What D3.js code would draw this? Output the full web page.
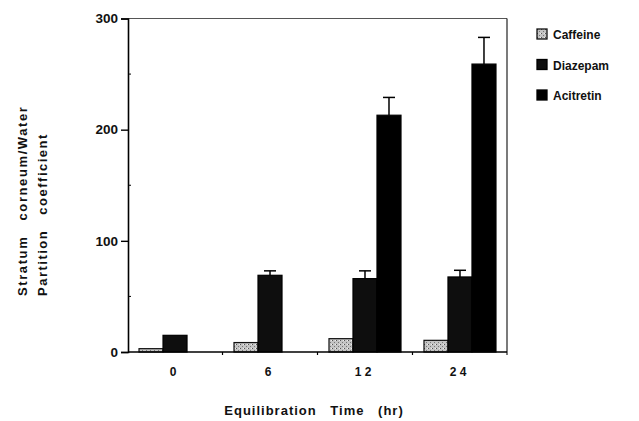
<!DOCTYPE html>
<html>
<head>
<meta charset="utf-8">
<script src="https://cdn.jsdelivr.net/npm/d3@7"></script>
<style>
  body { margin: 0; background: #fff; }
  text { font-family: "Liberation Sans", Arial, sans-serif; font-weight: bold; fill: #111; }
</style>
</head>
<body>
<div id="chart"></div>
<script>
'use strict'

// equilibration times (hr) and how the old plot prints them
var categories = ["0", "6", "12", "24"];
var tickLabels = ["0", "6", "1 2", "2 4"];
var seriesNames = ["Caffeine", "Diazepam", "Acitretin"];

// partition coefficients
var caffeine = [3, 8.5, 12, 10.5];
var diazepam = [15, 69, 66, 67.5];
var acitretin = [0, 0, 213, 259];

// upper error bars (SD)
var caffeineErr = [0, 0, 0, 0];
var diazepamErr = [0, 4, 7, 6];
var acitretinErr = [0, 0, 16, 24];

var yTicks = [0, 100, 200, 300];
var yMinorTicks = [50, 150, 250];

var width = 639, height = 421;
var plotLeft = 128, plotRight = 507, plotTop = 18.5, plotBottom = 352;

var fills = ["url(#stipple)", "#0e0e0e", "#000"];
var strokes = ["#111", "#000", "#000"];

var svg = d3.select("#chart").append("svg")
    .attr("width", width).attr("height", height);

// grey stipple for caffeine, like the photocopied original
var pat = svg.append("defs").append("pattern").attr("id", "stipple")
    .attr("patternUnits", "userSpaceOnUse").attr("width", 4).attr("height", 4);
pat.append("rect").attr("width", 4).attr("height", 4).style("fill", "#c4c4c4");
pat.append("rect").attr("x", 0).attr("y", 0).attr("width", 1).attr("height", 1).style("fill", "#555");
pat.append("rect").attr("x", 2).attr("y", 2).attr("width", 1).attr("height", 1).style("fill", "#777");
pat.append("rect").attr("x", 3).attr("y", 0).attr("width", 1).attr("height", 1).style("fill", "#eee");

var x = d3.scaleBand().domain(categories).range([plotLeft, plotRight])
    .paddingInner(0.242).paddingOuter(0.116);
var xs = d3.scaleBand().domain(seriesNames).range([0, x.bandwidth()]);
var y = d3.scaleLinear().domain([0, 300]).range([plotBottom, plotTop]);

var values = [caffeine, diazepam, acitretin];
var errors = [caffeineErr, diazepamErr, acitretinErr];

var bars = [];
seriesNames.forEach(function(name, s) {
    categories.forEach(function(cat, i) {
        bars.push({ series: name, s: s, cat: cat, v: values[s][i], e: errors[s][i] });
    });
});

var barMid = function(d) {
    return x(d.cat) + xs(d.series) + xs.bandwidth() / 2;
};

// bars
svg.selectAll(".bar").data(bars.filter(function(d) { return d.v > 0; }))
    .enter().append("rect").attr("class", "bar")
    .attr("x", function(d) { return x(d.cat) + xs(d.series); })
    .attr("y", function(d) { return y(d.v); })
    .attr("width", xs.bandwidth())
    .attr("height", function(d) { return y(0) - y(d.v); })
    .style("fill", function(d) { return fills[d.s]; })
    .style("stroke", function(d) { return strokes[d.s]; })
    .style("stroke-width", 1.2);

// error bars (upper half only shows)
var errs = bars.filter(function(d) { return d.e > 0; });
svg.selectAll(".err").data(errs).enter().append("line").attr("class", "err")
    .attr("x1", barMid).attr("x2", barMid)
    .attr("y1", function(d) { return y(d.v); })
    .attr("y2", function(d) { return y(d.v + d.e); })
    .style("stroke", "#000").style("stroke-width", 1.5);
svg.selectAll(".cap").data(errs).enter().append("line").attr("class", "cap")
    .attr("x1", function(d) { return barMid(d) - 6; })
    .attr("x2", function(d) { return barMid(d) + 6; })
    .attr("y1", function(d) { return y(d.v + d.e); })
    .attr("y2", function(d) { return y(d.v + d.e); })
    .style("stroke", "#000").style("stroke-width", 1.5);

// frame
svg.append("line").attr("x1", plotLeft).attr("x2", plotRight).attr("y1", plotTop).attr("y2", plotTop)
    .style("stroke", "#555").style("stroke-width", 1);
svg.append("line").attr("x1", plotRight).attr("x2", plotRight).attr("y1", plotTop).attr("y2", plotBottom + 3)
    .style("stroke", "#222").style("stroke-width", 1.2);

// y axis
var yAxis = d3.axisLeft(y).tickValues(yTicks).tickSize(7).tickPadding(3);
var gy = svg.append("g").attr("transform", "translate(" + plotLeft + ",0)").call(yAxis);
gy.select(".domain").style("stroke", "#000").style("stroke-width", 1.6);
gy.selectAll(".tick line").style("stroke", "#000").style("stroke-width", 1.4);
gy.selectAll(".tick text").style("font-size", "13.5px").style("font-family", "Liberation Sans, Arial, sans-serif")
    .style("font-weight", "bold").style("fill", "#111");
svg.selectAll(".minor").data(yMinorTicks).enter().append("line").attr("class", "minor")
    .attr("x1", plotLeft).attr("x2", plotLeft + 3)
    .attr("y1", function(d) { return y(d); }).attr("y2", function(d) { return y(d); })
    .style("stroke", "#000").style("stroke-width", 1);

// x axis: baseline plus ticks between groups
svg.append("line").attr("x1", plotLeft).attr("x2", plotRight).attr("y1", plotBottom).attr("y2", plotBottom)
    .style("stroke", "#000").style("stroke-width", 1.6);
var half = (x.step() - x.bandwidth()) / 2;
var boundaries = categories.map(function(c) { return x(c) - half; }).slice(1);
svg.selectAll(".xt").data(boundaries).enter().append("line").attr("class", "xt")
    .attr("x1", function(d) { return d; }).attr("x2", function(d) { return d; })
    .attr("y1", plotBottom).attr("y2", plotBottom + 3)
    .style("stroke", "#000").style("stroke-width", 1.2);
svg.selectAll(".xl").data(categories).enter().append("text").attr("class", "xl")
    .attr("x", function(d) { return x(d) + x.bandwidth() / 2 - 2; })
    .attr("y", 376)
    .attr("text-anchor", "middle")
    .style("font-size", "12px")
    .text(function(d, i) { return tickLabels[i]; });

// axis titles
svg.append("text").attr("x", 314).attr("y", 415).attr("text-anchor", "middle")
    .style("font-size", "13px").style("letter-spacing", "1px").style("word-spacing", "9px")
    .text("Equilibration Time (hr)");
svg.append("text").attr("transform", "translate(27,296) rotate(-90)")
    .style("font-size", "13px").style("letter-spacing", "1.6px").style("word-spacing", "10px")
    .text("Stratum corneum/Water");
svg.append("text").attr("transform", "translate(47,296) rotate(-90)")
    .style("font-size", "13px").style("letter-spacing", "1.5px").style("word-spacing", "10px")
    .text("Partition coefficient");

// legend
var legend = svg.selectAll(".leg").data(seriesNames).enter().append("g").attr("class", "leg")
    .attr("transform", function(d, i) { return "translate(537," + (29 + i * 30.5) + ")"; });
legend.append("rect").attr("width", 10).attr("height", 10)
    .style("fill", function(d, i) { return fills[i]; })
    .style("stroke", function(d, i) { return strokes[i]; }).style("stroke-width", 1.3);
legend.append("text").attr("x", 16).attr("y", 10).style("font-size", "12px")
    .text(function(d) { return d; });
</script>
</body>
</html>
